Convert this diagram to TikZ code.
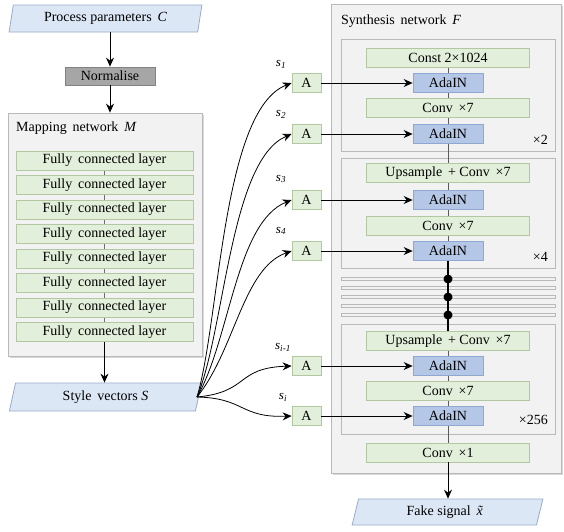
\documentclass[tikz,border=0pt]{standalone}
\usepackage{fontspec}
\setmainfont{Liberation Serif}
\usetikzlibrary{arrows.meta,shapes.geometric,shadows}
\definecolor{gfill}{RGB}{226,239,218}
\definecolor{gdraw}{RGB}{178,200,162}
\definecolor{bfill}{RGB}{180,199,231}
\definecolor{bdraw}{RGB}{143,168,210}
\definecolor{pfill}{RGB}{220,231,245}
\definecolor{pdraw}{RGB}{150,172,202}
\definecolor{boxfill}{RGB}{242,242,242}
\definecolor{boxdraw}{RGB}{185,185,185}
\definecolor{nfill}{RGB}{166,166,166}
\definecolor{ndraw}{RGB}{130,130,130}
\pgfdeclarelayer{bg}
\pgfdeclarelayer{mid}
\pgfsetlayers{bg,mid,main}
\begin{document}
\begin{tikzpicture}[x=1pt,y=-1pt,
  font=\fontsize{14}{16}\selectfont,
  arr/.style={-{Stealth[length=9pt,width=8pt,inset=3pt]},line width=0.8pt,black},
  gbox/.style={rectangle,fill=gfill,draw=gdraw,line width=0.8pt,minimum height=19pt,inner sep=0pt},
  wide/.style={gbox,minimum width=163pt},
  fcbox/.style={gbox,minimum width=177pt},
  abox/.style={gbox,minimum width=29pt},
  ada/.style={rectangle,fill=bfill,draw=bdraw,line width=0.8pt,minimum height=19pt,minimum width=70pt,inner sep=0pt},
  para/.style={trapezium,trapezium left angle=77,trapezium right angle=103,trapezium stretches=true,fill=pfill,draw=pdraw,line width=0.8pt,inner sep=0pt},
  container/.style={rectangle,fill=boxfill,draw=boxdraw,line width=0.8pt,inner sep=0pt},
  shadowed/.style={drop shadow={shadow xshift=1.5pt,shadow yshift=-1.5pt,opacity=0.25,fill=black!60}},
  bar/.style={rectangle,fill=boxfill,draw=boxdraw,line width=0.6pt,inner sep=0pt,minimum width=214pt,minimum height=3.5pt},
  slab/.style={font=\fontsize{13}{15}\selectfont,inner sep=0pt},
  mult/.style={anchor=east,inner sep=0pt},
  dot/.style={circle,fill=black,inner sep=0pt,minimum size=9pt},
  vline/.style={line width=1pt,draw={rgb,255:red,90;green,90;blue,90}},
  fcline/.style={line width=0.8pt,draw={rgb,255:red,110;green,110;blue,110}}]
\useasboundingbox (0,0) rectangle (564,531);
\begin{pgfonlayer}{bg}
  \fill[white] (0,0) rectangle (564,531);
\end{pgfonlayer}

% ---------- left column ----------
\node[para,minimum width=193pt,minimum height=27pt] (C) at (105.5,18.5) {Process parameters\, \textit{C}};
\node[rectangle,fill=nfill,draw=ndraw,line width=0.8pt,minimum width=90pt,minimum height=18pt,inner sep=0pt] (N) at (110,76) {Normalise};
\begin{pgfonlayer}{bg}
  \node[container,shadowed,minimum width=194pt,minimum height=243pt] (M) at (105,234.5) {};
\end{pgfonlayer}
\node[anchor=west,inner sep=0pt] (Mlab) at (16,128) {Mapping\, network\, \textit{M}};
\foreach \i/\y in {1/160.5,2/185,3/209.5,4/234,5/258.5,6/283,7/307.5,8/332}{
  \node[fcbox] (fc\i) at (104.5,\y) {Fully\, connected layer};
}
\node[para,minimum width=193pt,minimum height=28pt] (S) at (105.5,397) {Style\, vectors \textit{S}};
\coordinate (so) at (197,397);

\draw[arr] (C.south -| N) -- (N.north);
\draw[arr] (N.south) -- (N.south |- M.north);
\begin{pgfonlayer}{mid}
  \draw[fcline] (fc1) -- (fc8);
\end{pgfonlayer}
\draw[arr] (fc8.south) -- (fc8.south |- S.north);

% ---------- synthesis network ----------
\begin{pgfonlayer}{bg}
  \node[container,shadowed,minimum width=230pt,minimum height=469pt] (F) at (446,238.5) {};
  \node[container,minimum width=214pt,minimum height=112pt] (B1) at (448,95) {};
  \node[container,minimum width=214pt,minimum height=110pt] (B2) at (448,213) {};
  \node[container,minimum width=214pt,minimum height=110pt] (B3) at (448,379) {};
  \foreach \i/\y in {1/279,2/288,3/297,4/306,5/315}{
    \node[bar] (bar\i) at (448,\y) {};
  }
\end{pgfonlayer}
\node[anchor=west,inner sep=0pt] (Flab) at (341,21) {Synthesis\, network\, \textit{F}};

\node[wide] (K)   at (448,57.5)  {Const 2×1024};
\node[ada]  (ad1) at (448,83)    {AdaIN};
\node[wide] (cv1) at (448,108)   {Conv\, ×7};
\node[ada]  (ad2) at (448,134)   {AdaIN};
\node[mult] (m2) at (548,140) {×2};

\node[wide] (up2) at (448,173)   {Upsample\, + Conv\, ×7};
\node[ada]  (ad3) at (448,200)   {AdaIN};
\node[wide] (cv2) at (448,225.5) {Conv\, ×7};
\node[ada]  (ad4) at (448,251)   {AdaIN};
\node[mult] (m4) at (548,257) {×4};

\node[dot] (d1) at (448,279) {};
\node[dot] (d2) at (448,297) {};
\node[dot] (d3) at (448,315) {};

\node[wide] (up3) at (448,341)   {Upsample\, + Conv\, ×7};
\node[ada]  (ad5) at (448,366)   {AdaIN};
\node[wide] (cv3) at (448,390.5) {Conv\, ×7};
\node[ada]  (ad6) at (448,416)   {AdaIN};
\node[mult] (m256) at (548,420) {×256};

\node[wide] (X1)  at (448,452.5) {Conv\, ×1};
\node[para,minimum width=191pt,minimum height=26pt] (Fk) at (447.5,512) {Fake signal\, \textit{\~x}};

\begin{pgfonlayer}{mid}
  \draw[vline] (K) -- (ad4);
  \draw[line width=1.1pt,black] (ad4) -- (up3);
  \draw[vline] (up3) -- (X1);
\end{pgfonlayer}
\draw[arr] (X1.south) -- (X1.south |- Fk.north);

% ---------- A blocks ----------
\foreach \i/\y in {1/83,2/134,3/200,4/251,5/366,6/416}{
  \node[abox] (A\i) at (306.5,\y) {A};
  \draw[arr] (A\i) -- (ad\i);
}
\node[slab] (s1) at (281,64)  {\textit{s}\textsubscript{\textit{1}}};
\node[slab] (s2) at (281,114) {\textit{s}\textsubscript{\textit{2}}};
\node[slab] (s3) at (281,179) {\textit{s}\textsubscript{\textit{3}}};
\node[slab] (s4) at (281,231) {\textit{s}\textsubscript{\textit{4}}};
\node[slab] (s5) at (283,347) {\textit{s}\textsubscript{\textit{i-1}}};
\node[slab] (s6) at (283,397) {\textit{s}\textsubscript{\textit{i}}};

\draw[arr] (so) .. controls (220,320) and (222,110) .. (A1.west);
\draw[arr] (so) .. controls (225,330) and (230,160) .. (A2.west);
\draw[arr] (so) .. controls (230,340) and (236,222) .. (A3.west);
\draw[arr] (so) .. controls (235,350) and (243,268) .. (A4.west);
\draw[arr] (so) .. controls (250,392) and (235,368) .. (A5.west);
\draw[arr] (so) .. controls (245,398) and (240,418) .. (A6.west);
\end{tikzpicture}
\end{document}
